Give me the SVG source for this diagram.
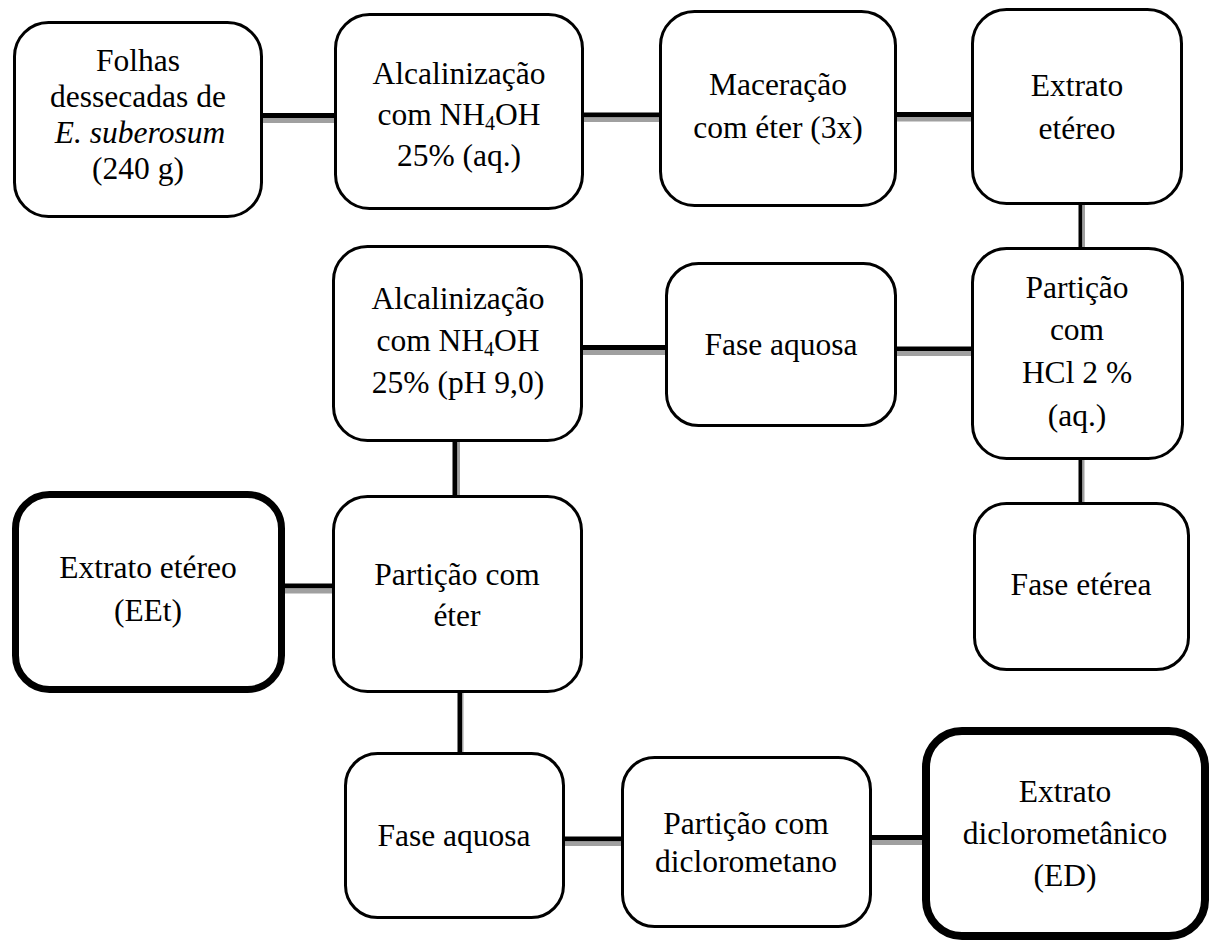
<svg xmlns="http://www.w3.org/2000/svg" width="1212" height="942" viewBox="0 0 1212 942">
<style>
.box{fill:#fff;stroke:#000;stroke-width:3}
.bold{stroke-width:7}
.t{fill:#000;text-anchor:middle}
.k{fill:#000}
.g{fill:#a0a0a0}
</style>
<rect width="1212" height="942" fill="#fff"/>
<g id="connectors">
  <rect class="k" x="262" y="113" width="73" height="5"/><rect class="g" x="262" y="118" width="73" height="5"/>
  <rect class="k" x="583" y="112.5" width="77" height="5"/><rect class="g" x="583" y="117.5" width="77" height="4.5"/>
  <rect class="k" x="896" y="112" width="76" height="5"/><rect class="g" x="896" y="117" width="76" height="4.5"/>
  <rect class="k" x="1078.5" y="204" width="4" height="44"/><rect class="g" x="1082.5" y="204" width="2.5" height="44"/>
  <rect class="k" x="582" y="345" width="84" height="5"/><rect class="g" x="582" y="350" width="84" height="5"/>
  <rect class="k" x="896" y="346.5" width="76" height="4.5"/><rect class="g" x="896" y="351" width="76" height="5"/>
  <rect class="k" x="1078.5" y="459" width="4" height="44"/><rect class="g" x="1082.5" y="459" width="2" height="44"/>
  <rect class="k" x="452.5" y="441" width="5" height="55"/><rect class="g" x="457.5" y="441" width="2.5" height="55"/>
  <rect class="k" x="284" y="583.5" width="49" height="5"/><rect class="g" x="284" y="588.5" width="49" height="5"/>
  <rect class="k" x="457.5" y="692" width="4.5" height="61"/><rect class="g" x="462" y="692" width="1.5" height="61"/>
  <rect class="k" x="564" y="836.5" width="58" height="5"/><rect class="g" x="564" y="841.5" width="58" height="4.5"/>
  <rect class="k" x="871" y="835" width="52" height="5"/><rect class="g" x="871" y="840" width="52" height="5"/>
</g>
<g id="nodes" font-family="Liberation Serif, Times New Roman, serif" font-size="31.5">
<g id="n1"><rect class="box" x="14.5" y="22.5" width="247" height="194" rx="34"/>
  <text class="t" x="138" y="71">Folhas</text>
  <text class="t" x="138" y="107">dessecadas de</text>
  <text class="t" x="140" y="143" font-style="italic">E. suberosum</text>
  <text class="t" x="138" y="179">(240 g)</text></g>
<g id="n2"><rect class="box" x="335.5" y="14.5" width="247" height="194" rx="34"/>
  <text class="t" x="459" y="84">Alcalinização</text>
  <text class="t" x="459" y="125">com NH<tspan font-size="20" dy="5">4</tspan><tspan dy="-5">OH</tspan></text>
  <text class="t" x="459" y="166">25% (aq.)</text></g>
<g id="n3"><rect class="box" x="660.5" y="11.5" width="235" height="194" rx="34"/>
  <text class="t" x="778" y="95">Maceração</text>
  <text class="t" x="778" y="138">com éter (3x)</text></g>
<g id="n4"><rect class="box" x="972.5" y="9.5" width="209" height="194" rx="34"/>
  <text class="t" x="1077" y="96">Extrato</text>
  <text class="t" x="1077" y="139">etéreo</text></g>
<g id="n5"><rect class="box" x="972.5" y="248.5" width="210" height="210" rx="34"/>
  <text class="t" x="1077" y="298">Partição</text>
  <text class="t" x="1077" y="340">com</text>
  <text class="t" x="1077" y="383">HCl 2 %</text>
  <text class="t" x="1077" y="426">(aq.)</text></g>
<g id="n6"><rect class="box" x="974.5" y="503.5" width="214" height="166" rx="32"/>
  <text class="t" x="1081" y="595">Fase etérea</text></g>
<g id="n7"><rect class="box" x="333.5" y="246.5" width="248" height="194" rx="34"/>
  <text class="t" x="458" y="309">Alcalinização</text>
  <text class="t" x="458" y="351">com NH<tspan font-size="20" dy="5">4</tspan><tspan dy="-5">OH</tspan></text>
  <text class="t" x="458" y="393">25% (pH 9,0)</text></g>
<g id="n8"><rect class="box" x="666.5" y="263.5" width="229" height="162" rx="32"/>
  <text class="t" x="781" y="355">Fase aquosa</text></g>
<g id="n9"><rect class="box bold" x="15.5" y="494.5" width="266" height="195" rx="34"/>
  <text class="t" x="148" y="578">Extrato etéreo</text>
  <text class="t" x="148" y="621">(EEt)</text></g>
<g id="n10"><rect class="box" x="333.5" y="496.5" width="248" height="195" rx="34"/>
  <text class="t" x="457" y="585">Partição com</text>
  <text class="t" x="457" y="626">éter</text></g>
<g id="n11"><rect class="box" x="345.5" y="753.5" width="218" height="164" rx="32"/>
  <text class="t" x="454" y="846">Fase aquosa</text></g>
<g id="n12"><rect class="box" x="622.5" y="757.5" width="248" height="169" rx="32"/>
  <text class="t" x="746" y="834">Partição com</text>
  <text class="t" x="746" y="872">diclorometano</text></g>
<g id="n13"><rect class="box" style="stroke-width:8" x="926" y="731" width="279" height="205" rx="36"/>
  <text class="t" x="1065" y="802">Extrato</text>
  <text class="t" x="1065" y="844">diclorometânico</text>
  <text class="t" x="1065" y="886">(ED)</text></g>
</g>
</svg>
